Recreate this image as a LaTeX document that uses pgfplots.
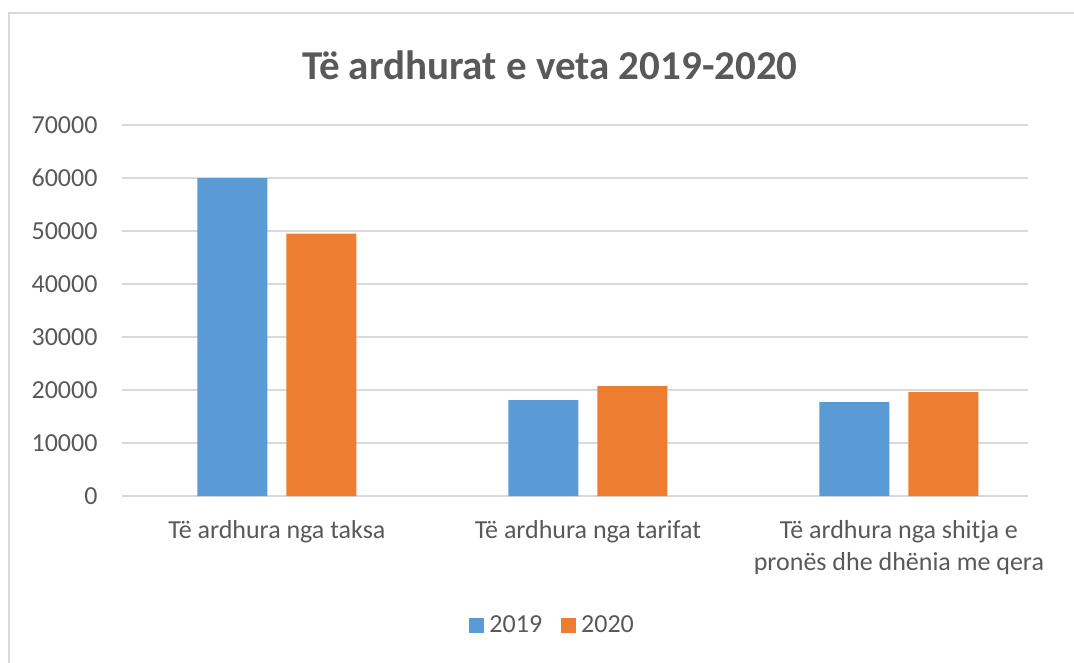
\documentclass[border=0pt]{standalone}
\usepackage{fontspec}
\setmainfont{Carlito}
\usepackage{pgfplots}
\pgfplotsset{compat=1.18}
\definecolor{blu}{HTML}{5B9BD5}
\definecolor{org}{HTML}{ED7D31}
\definecolor{txt}{HTML}{595959}
\definecolor{grd}{HTML}{D9D9D9}
\begin{document}
\begin{tikzpicture}[x=1pt,y=1pt]
% page = 1074 x 662 px, axis box lower-left at px (122,496)
\path[use as bounding box] (-122,-166) rectangle (952,496);
\draw[grd, line width=2.5pt] (-113,-170) -- (-113,483) -- (960,483);
\node[txt, font=\fontsize{41}{48}\selectfont\bfseries] at (428,431) {Të ardhurat e veta 2019-2020};
\begin{axis}[
  at={(0,0)}, anchor=south west,
  scale only axis, width=906pt, height=371pt,
  ybar=19pt, bar width=70pt,
  xmin=-0.498, xmax=2.415,
  ymin=0, ymax=70000,
  ytick={0,10000,...,70000},
  scaled y ticks=false,
  xtick=data,
  xticklabels={Të ardhura nga taksa,Të ardhura nga tarifat,{Të ardhura nga shitja e\\pronës dhe dhënia me qera}},
  axis line style={draw=none},
  major tick length=0pt,
  ymajorgrids, grid style={grd, line width=1.8pt},
  /pgf/number format/assume math mode=true,
  /pgf/number format/1000 sep={},
  yticklabel style={font=\fontsize{26}{30}\selectfont, text=txt, xshift=-21pt},
  xticklabel style={font=\fontsize{26}{31.5}\selectfont, text=txt, align=center, yshift=-21pt},
  legend style={at={(0.477,-0.348)}, anchor=center, draw=none, fill=none,
    font=\fontsize{26}{30}\selectfont, text=txt, legend columns=2,
    nodes={inner xsep=5pt},
    /tikz/every even column/.append style={column sep=14pt}},
  legend image code/.code={\fill[#1,draw=none] (0pt,-7.5pt) rectangle (15pt,7.5pt);},
]
\addplot[fill=blu, draw=none] coordinates {(0,60000) (1,18100) (2,17700)};
\addplot[fill=org, draw=none] coordinates {(0,49500) (1,20750) (2,19600)};
\legend{2019,2020}
\end{axis}
\end{tikzpicture}
\end{document}
